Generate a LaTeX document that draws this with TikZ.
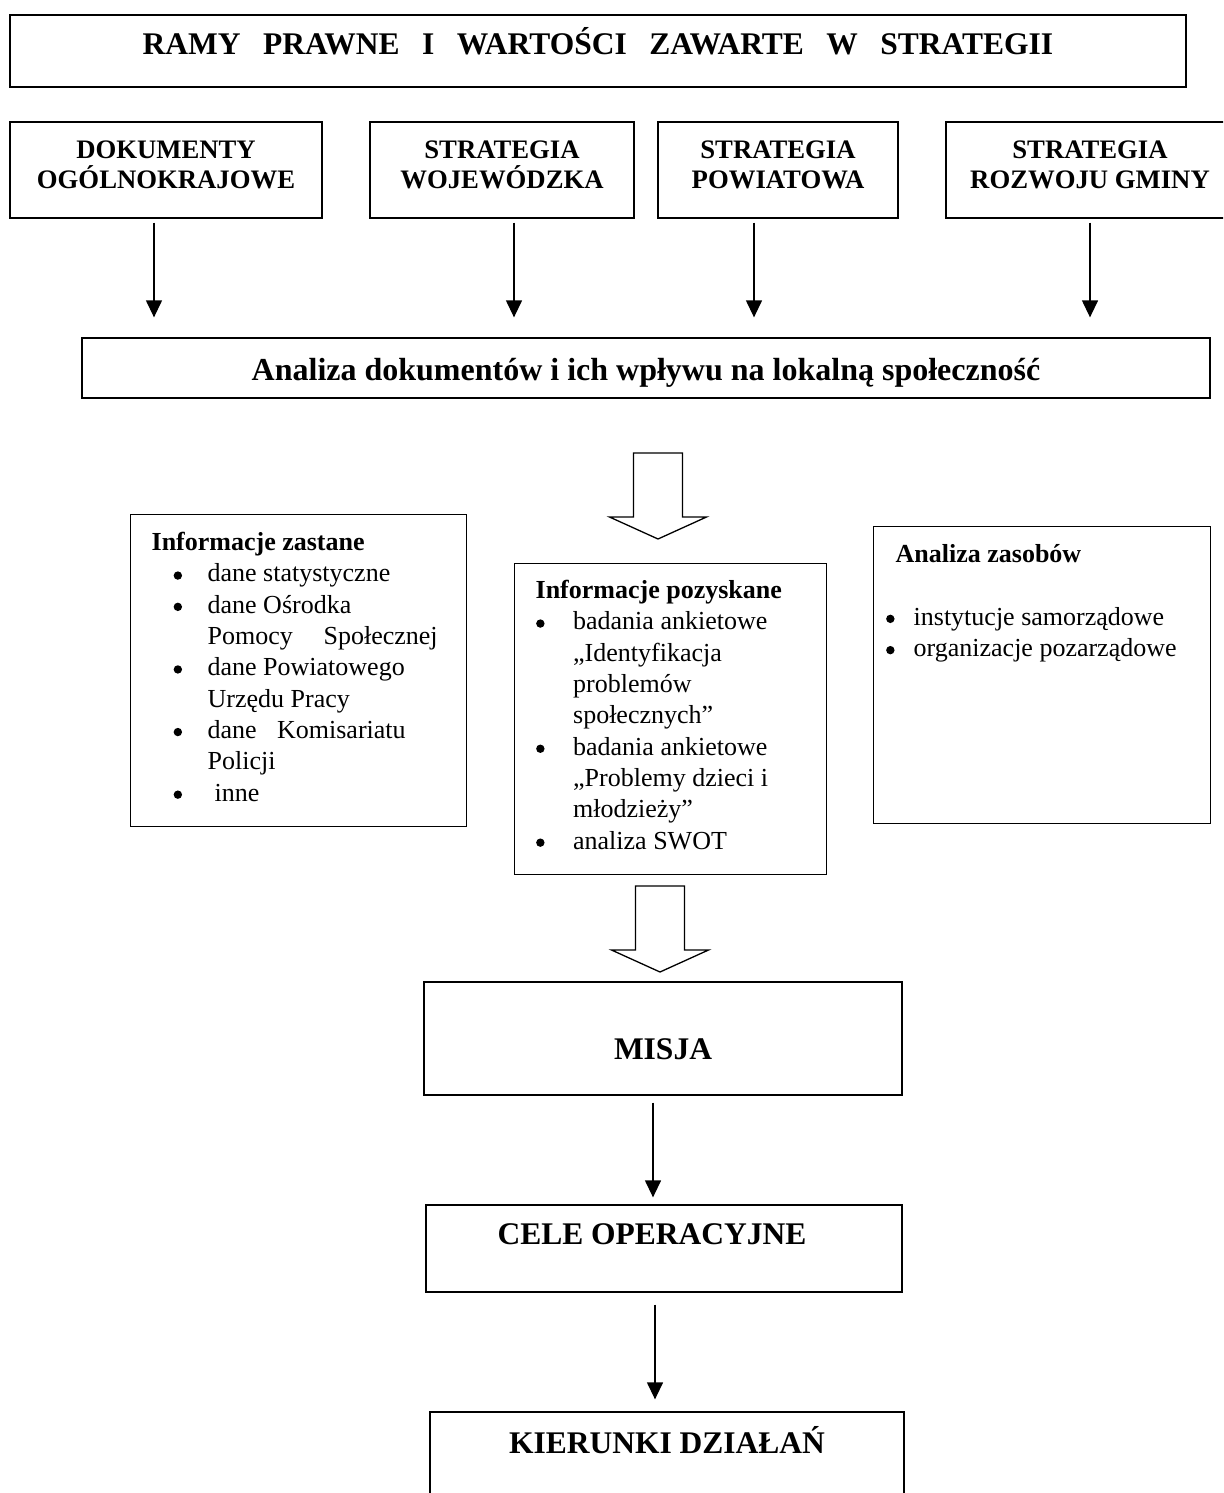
\documentclass[tikz,border=0pt]{standalone}
\usepackage{fontspec}
\setmainfont{Liberation Serif}
\usetikzlibrary{arrows.meta}

\newcommand{\kropka}{\tikz[baseline=0pt,x=1pt,y=1pt]\fill (4.2,6.4) circle (4.2);}
\newcommand{\linia}[2]{\par\noindent\hspace*{#1}#2}
\newcommand{\punkt}[3]{\par\noindent\hspace*{#1}\makebox[#2][l]{\kropka}#3}
\newcommand{\gora}{\rule{0pt}{20pt}}
\newcommand{\dol}{\rule[-14pt]{0pt}{14pt}}

\begin{document}
\begin{tikzpicture}[x=1pt,y=-1pt,
  ramka/.style={draw,line width=1.3pt,inner sep=0pt},
  duzy/.style={ramka,font=\fontsize{31.5}{36}\selectfont\bfseries},
  sredni/.style={ramka,align=center,font=\fontsize{26.7}{30}\selectfont\bfseries},
  lista/.style={ramka,anchor=north west,font=\fontsize{26}{31.3}\selectfont},
  strzalka/.style={-{Triangle[width=16pt,length=17pt]},line width=1.3pt},
  blok/.style={draw,line width=1.3pt,line join=miter}]
\useasboundingbox (0,0) rectangle (1223,1493);
\clip (0,0) rectangle (1223,1493);

% gora
\node (ramy) at (598,51)[duzy,minimum width=1176pt,minimum height=72pt,text height=24pt,text depth=16pt] {\spaceskip=22.5pt RAMY PRAWNE I WARTOŚCI ZAWARTE W STRATEGII};
\node (dok) at (166,170)[sredni,minimum width=312pt,minimum height=96pt] {\gora DOKUMENTY\\OGÓLNOKRAJOWE\dol};
\node (woj) at (502,170)[sredni,minimum width=264pt,minimum height=96pt] {\gora STRATEGIA\\WOJEWÓDZKA\dol};
\node (pow) at (778,170)[sredni,minimum width=240pt,minimum height=96pt] {\gora STRATEGIA\\POWIATOWA\dol};
\node (gmi) at (1090,170)[sredni,minimum width=288pt,minimum height=96pt] {\gora STRATEGIA\\ROZWOJU GMINY\dol};
\node (analiza) at (646,368)[duzy,font=\fontsize{32}{36}\selectfont\bfseries,minimum width=1128pt,minimum height=60pt,text height=24pt,text depth=0pt] {Analiza dokumentów i ich wpływu na lokalną społeczność};

\draw[strzalka,shorten <=4pt,shorten >=20pt] ([xshift=-12pt]dok.south) -- ([xshift=-12pt]dok.south |- analiza.north);
\draw[strzalka,shorten <=4pt,shorten >=20pt] ([xshift=12pt]woj.south) -- ([xshift=12pt]woj.south |- analiza.north);
\draw[strzalka,shorten <=4pt,shorten >=20pt] ([xshift=-24pt]pow.south) -- ([xshift=-24pt]pow.south |- analiza.north);
\draw[strzalka,shorten <=4pt,shorten >=20pt] (gmi.south) -- (gmi.south |- analiza.north);

% informacje
\coordinate (grot1) at (658,539);
\draw[blok] (grot1) -- ++(-48.5,-22) -- ++(24,0) -- ++(0,-64) -- ++(49,0) -- ++(0,64) -- ++(24,0) -- cycle;

\node (zastane) at (130,514)[lista] {\parbox[c][312pt][t]{336pt}{%
\linia{21pt}{\rule{0pt}{36pt}\textbf{Informacje zastane}}
\punkt{43pt}{34pt}{dane statystyczne}
\punkt{43pt}{34pt}{dane Ośrodka}
\linia{77pt}{\makebox[230pt][s]{Pomocy Społecznej}}
\punkt{43pt}{34pt}{dane Powiatowego}
\linia{77pt}{Urzędu Pracy}
\punkt{43pt}{34pt}{\makebox[198pt][s]{dane Komisariatu}}
\linia{77pt}{Policji}
\punkt{43pt}{34pt}{\hspace*{7pt}inne}}};

\node (pozysk) at (514,563)[lista] {\parbox[c][311pt][t]{312pt}{%
\linia{21pt}{\rule{0pt}{35pt}\textbf{Informacje pozyskane}}
\punkt{21.5pt}{37pt}{badania ankietowe}
\linia{58.5pt}{„Identyfikacja}
\linia{58.5pt}{problemów}
\linia{58.5pt}{społecznych”}
\punkt{21.5pt}{37pt}{badania ankietowe}
\linia{58.5pt}{„Problemy dzieci i}
\linia{58.5pt}{młodzieży”}
\punkt{21.5pt}{37pt}{analiza SWOT}}};

\node (zasoby) at (873,526)[lista] {\parbox[c][297pt][t]{337pt}{%
\linia{22pt}{\rule{0pt}{36pt}\textbf{Analiza zasobów}}
\linia{0pt}{\mbox{}}
\punkt{12.5pt}{27.5pt}{instytucje samorządowe}
\punkt{12.5pt}{27.5pt}{organizacje pozarządowe}}};

% dol
\coordinate (grot2) at (660,972);
\draw[blok] (grot2) -- ++(-48.5,-22) -- ++(24,0) -- ++(0,-64) -- ++(49,0) -- ++(0,64) -- ++(24,0) -- cycle;

\node (misja) at (663,1038.5)[duzy,minimum width=478pt,minimum height=113pt,text height=41pt,text depth=0pt] {MISJA};
\node (cele) at (664,1248.5)[duzy,minimum width=476pt,minimum height=87pt,text height=24pt,text depth=32pt] {CELE OPERACYJNE\hspace*{24pt}};
\node (kier) at (667,1486)[duzy,minimum width=474pt,minimum height=148pt,text height=24pt,text depth=90pt] {KIERUNKI DZIAŁAŃ};

\draw[strzalka,shorten <=7pt,shorten >=7pt] ([xshift=-10pt]misja.south) -- ([xshift=-10pt]misja.south |- cele.north);
\draw[strzalka,shorten <=12pt,shorten >=12pt] ([xshift=-9pt]cele.south) -- ([xshift=-9pt]cele.south |- kier.north);
\end{tikzpicture}
\end{document}
